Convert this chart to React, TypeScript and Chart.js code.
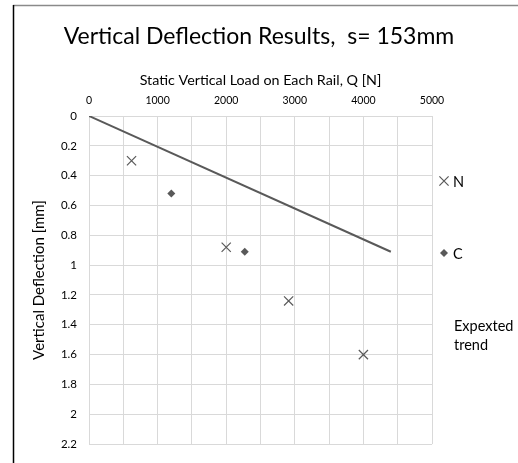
import React, { useEffect, useRef } from "react";
import { Chart, registerables } from "chart.js";

Chart.register(...registerables);

const loadN = [620, 2000, 2910, 4000];
const deflN = [0.3, 0.88, 1.24, 1.6];
const loadC = [1200, 2270];
const deflC = [0.52, 0.91];
const trendLoad = [0, 4400];
const trendDefl = [0, 0.91];

const chartTitle = "Vertical Deflection Results,  s= 153mm";
const xTitle = "Static Vertical Load on Each Rail, Q [N]";
const yTitle = "Vertical Deflection [mm]";
const seriesNames = ["N", "C", "Expexted trend"];

const FONT = "Lato, Carlito, 'DejaVu Sans', sans-serif";
const INK = "#595959";
const GRID = "#d9d9d9";

const TITLE_BOX = 50;
const X_AXIS_H = 116 - TITLE_BOX;

function drawMarker(ctx: CanvasRenderingContext2D, style: string, x: number, y: number, r: number) {
  ctx.beginPath();
  if (style === "crossRot") {
    const o = r * Math.SQRT1_2;
    ctx.moveTo(x - o, y - o);
    ctx.lineTo(x + o, y + o);
    ctx.moveTo(x + o, y - o);
    ctx.lineTo(x - o, y + o);
    ctx.stroke();
  } else {
    ctx.moveTo(x - r, y);
    ctx.lineTo(x, y - r);
    ctx.lineTo(x + r, y);
    ctx.lineTo(x, y + r);
    ctx.closePath();
    ctx.fill();
  }
}

const frameTitleLegend = {
  id: "frameTitleLegend",
  beforeDraw(chart: any) {
    const { ctx, width, height } = chart;
    ctx.save();
    ctx.fillStyle = "#fff";
    ctx.fillRect(0, 0, width, height);
    ctx.restore();
  },
  afterDraw(chart: any) {
    const { ctx, width, height } = chart;
    ctx.save();
    ctx.lineWidth = 1.5;
    ctx.strokeStyle = "#8a8a8a";
    ctx.beginPath();
    ctx.moveTo(13, 5.5);
    ctx.lineTo(width, 5.5);
    ctx.stroke();
    ctx.strokeStyle = "#000";
    ctx.beginPath();
    ctx.moveTo(13.5, 5);
    ctx.lineTo(13.5, height);
    ctx.stroke();

    // title
    ctx.fillStyle = "#000";
    ctx.font = `23px ${FONT}`;
    ctx.textAlign = "center";
    ctx.textBaseline = "middle";
    ctx.fillText(chartTitle, 259, 36.5);

    // legend
    ctx.font = `14.5px ${FONT}`;
    ctx.textAlign = "left";
    const mx = 444;
    const items = [
      { y: 181, style: "crossRot", r: 6.5, label: seriesNames[0] },
      { y: 253, style: "rectRot", r: 4, label: seriesNames[1] },
    ];
    items.forEach((it) => {
      ctx.strokeStyle = INK;
      ctx.fillStyle = INK;
      ctx.lineWidth = 1.2;
      drawMarker(ctx, it.style, mx, it.y, it.r);
      ctx.fillStyle = "#000";
      ctx.fillText(it.label, 453, it.y + 1);
    });
    const words = seriesNames[2].split(" ");
    ctx.fillText(words[0], 454, 326);
    ctx.fillText(words[1], 454, 345);
    ctx.restore();
  },
};

export default function App() {
  const ref = useRef<HTMLCanvasElement>(null);
  useEffect(() => {
    if (!ref.current) return;
    const chart = new Chart(ref.current, {
      type: "scatter",
      data: {
        datasets: [
          {
            label: seriesNames[0],
            data: loadN.map((x, i) => ({ x, y: deflN[i] })),
            pointStyle: "crossRot",
            pointRadius: 6.5,
            borderColor: INK,
            backgroundColor: INK,
            borderWidth: 1.2,
            showLine: false,
          },
          {
            label: seriesNames[1],
            data: loadC.map((x, i) => ({ x, y: deflC[i] })),
            pointStyle: "rectRot",
            pointRadius: 4,
            borderColor: INK,
            backgroundColor: INK,
            borderWidth: 0,
            showLine: false,
          },
          {
            label: seriesNames[2],
            data: trendLoad.map((x, i) => ({ x, y: trendDefl[i] })),
            showLine: true,
            pointRadius: 0,
            borderColor: INK,
            borderWidth: 2,
          },
        ],
      },
      options: {
        animation: false,
        responsive: false,
        layout: { padding: { top: TITLE_BOX, left: 13, right: 86, bottom: 16 } },
        plugins: {
          legend: { display: false },
          tooltip: { enabled: false },
          title: { display: false },
        },
        scales: {
          x: {
            type: "linear",
            position: "top",
            min: 0,
            max: 5000,
            afterFit: (s: any) => {
              s.height = X_AXIS_H;
            },
            ticks: {
              stepSize: 500,
              autoSkip: false,
              maxRotation: 0,
              padding: 9,
              color: "#000",
              font: { family: FONT, size: 10.5 },
              callback: (v: any) => (Number(v) % 1000 === 0 ? String(v) : ""),
            },
            grid: { color: GRID, drawTicks: false, lineWidth: 1 },
            border: { color: GRID },
            title: {
              display: true,
              text: xTitle,
              color: "#000",
              font: { family: FONT, size: 14.3 },
              padding: { top: 22, bottom: 0 },
            },
          },
          y: {
            type: "linear",
            reverse: true,
            min: 0,
            max: 2.2,
            afterFit: (s: any) => {
              s.width = 76;
            },
            ticks: {
              stepSize: 0.2,
              autoSkip: false,
              padding: 12,
              color: "#000",
              font: { family: FONT, size: 11.5 },
              callback: (v: any) => String(Number(Number(v).toFixed(1))),
            },
            grid: { color: GRID, drawTicks: false, lineWidth: 1 },
            border: { color: GRID },
            title: {
              display: true,
              text: yTitle,
              color: "#000",
              font: { family: FONT, size: 15 },
              padding: { top: 17, bottom: 0 },
            },
          },
        },
      },
      plugins: [frameTitleLegend],
    } as any);
    return () => chart.destroy();
  }, []);
  return (
    <div style={{ position: "fixed", left: 0, top: 0, width: 518, height: 463, overflow: "hidden", background: "#fff" }}>
      <canvas ref={ref} width={518} height={463} style={{ display: "block" }} />
    </div>
  );
}
